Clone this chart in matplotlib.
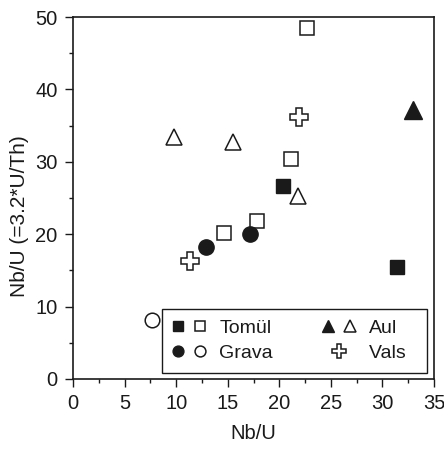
import matplotlib
matplotlib.use("Agg")
import matplotlib.pyplot as plt
from matplotlib.lines import Line2D
from matplotlib.legend_handler import HandlerTuple
from matplotlib.ticker import MultipleLocator

plt.rcParams['font.family'] = ['Liberation Sans', 'DejaVu Sans']

# Data
tomul_filled_x = [20.4, 31.4]
tomul_filled_y = [26.7, 15.5]
tomul_open_x = [22.7, 21.1, 14.6, 17.8]
tomul_open_y = [48.5, 30.4, 20.2, 21.8]
grava_filled_x = [12.9, 17.2]
grava_filled_y = [18.3, 20.0]
grava_open_x = [7.7]
grava_open_y = [8.2]
aul_filled_x = [33.0]
aul_filled_y = [37.2]
aul_open_x = [9.8, 15.5, 21.8]
aul_open_y = [33.4, 32.7, 25.3]
vals_x = [21.9, 11.3]
vals_y = [36.2, 16.3]
legend_labels = ['Tomül', 'Grava', 'Aul', 'Vals\u00a0\u00a0']

ink = '#1a1a1a'
fig = plt.figure(figsize=(4.44, 4.5), dpi=100)
ax = fig.add_axes([0.1644, 0.1578, 0.8131, 0.8044])

mew = 1.1
kw_f = dict(linestyle='none', color=ink, markeredgecolor=ink)
kw_o = dict(linestyle='none', markerfacecolor='white', markeredgecolor=ink, markeredgewidth=mew)

ax.plot(tomul_open_x, tomul_open_y, marker='s', markersize=10.5, **kw_o)
ax.plot(tomul_filled_x, tomul_filled_y, marker='s', markersize=10.5, **kw_f)
ax.plot(grava_open_x, grava_open_y, marker='o', markersize=10.5, **kw_o)
ax.plot(grava_filled_x, grava_filled_y, marker='o', markersize=11, **kw_f)
ax.plot(aul_open_x, aul_open_y, marker='^', markersize=12, **kw_o)
ax.plot(aul_filled_x, aul_filled_y, marker='^', markersize=12.5, **kw_f)
ax.plot(vals_x, vals_y, marker='P', markersize=12.5, **kw_o)

ax.set_xlim(0, 35)
ax.set_ylim(0, 50)
ax.xaxis.set_major_locator(MultipleLocator(5))
ax.xaxis.set_minor_locator(MultipleLocator(2.5))
ax.yaxis.set_major_locator(MultipleLocator(10))
ax.yaxis.set_minor_locator(MultipleLocator(5))
ax.tick_params(which='major', direction='out', length=6, width=1, labelsize=14.5, colors=ink, pad=5)
ax.tick_params(which='minor', direction='out', length=3, width=1, colors=ink)
for s in ax.spines.values():
    s.set_linewidth(1.2)
    s.set_color(ink)
ax.set_xlabel('Nb/U', fontsize=14.5, color=ink, labelpad=8)
ax.set_ylabel('Nb/U (=3.2*U/Th)', fontsize=15, color=ink)
ax.yaxis.set_label_coords(-0.122, 0.45)

lms = 7.8
h_tomul = (Line2D([], [], marker='s', markersize=lms, **kw_f),
           Line2D([], [], marker='s', markersize=lms, **kw_o))
h_grava = (Line2D([], [], marker='o', markersize=lms, **kw_f),
           Line2D([], [], marker='o', markersize=lms, **kw_o))
h_aul = (Line2D([], [], marker='^', markersize=lms + 1.5, **kw_f),
         Line2D([], [], marker='^', markersize=lms + 1.5, **kw_o))
h_vals = Line2D([], [], marker='P', markersize=lms + 2, **kw_o)

leg = ax.legend([h_tomul, h_grava, h_aul, h_vals], legend_labels,
                handler_map={tuple: HandlerTuple(ndivide=None, pad=0.62)},
                ncol=2, loc='lower left', bbox_to_anchor=(0.2465, 0.0166),
                borderaxespad=0, fancybox=False, fontsize=14,
                handlelength=1.65, handletextpad=0.75, labelspacing=0.4,
                borderpad=0.55, columnspacing=2.55,
                edgecolor=ink, framealpha=1)
leg.get_frame().set_linewidth(1.0)
for t in leg.get_texts():
    t.set_color(ink)

fig.savefig('out.png', dpi=100)
